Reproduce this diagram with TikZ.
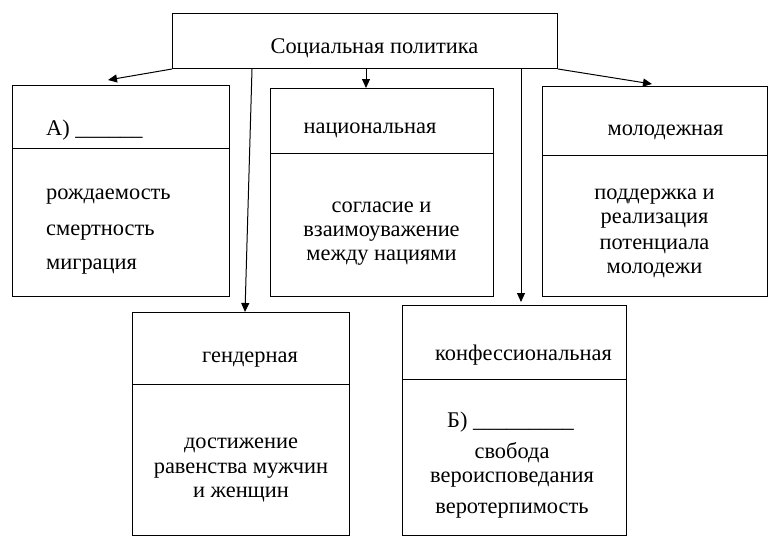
\documentclass[tikz,border=0pt]{standalone}
\usepackage{fontspec}
\setmainfont{Liberation Serif}
\usetikzlibrary{arrows.meta}
\begin{document}
\begin{tikzpicture}[x=1pt,y=-1pt,
  box/.style={draw,line width=1pt,rectangle,anchor=north west,inner sep=0pt},
  txt/.style={font=\fontsize{22.4}{25}\selectfont,inner sep=0pt,anchor=base},
  txtl/.style={txt,anchor=base west},
  arr/.style={line width=1pt,-{Triangle[length=9pt,width=8pt]}},
  divider/.style={line width=1pt}]
\useasboundingbox (0,0) rectangle (775,547);
% boxes
\node[box,minimum width=385pt,minimum height=55pt] (top) at (172,13) {};
\node[box,minimum width=217pt,minimum height=211pt] (A) at (12,85) {};
\node[box,minimum width=223pt,minimum height=208pt] (nat) at (270,88) {};
\node[box,minimum width=225pt,minimum height=210pt] (mol) at (542,86) {};
\node[box,minimum width=217pt,minimum height=223pt] (gen) at (132,312) {};
\node[box,minimum width=224pt,minimum height=230pt] (konf) at (402,305) {};
% dividers
\coordinate (dA) at (0,148);
\coordinate (dN) at (0,153);
\coordinate (dM) at (0,155);
\coordinate (dG) at (0,384);
\coordinate (dK) at (0,379);
\draw[divider] (A.west |- dA) -- (A.east |- dA);
\draw[divider] (nat.west |- dN) -- (nat.east |- dN);
\draw[divider] (mol.west |- dM) -- (mol.east |- dM);
\draw[divider] (gen.west |- dG) -- (gen.east |- dG);
\draw[divider] (konf.west |- dK) -- (konf.east |- dK);
% texts
\node[txt] (tTop) at (374.5,53) {Социальная политика};
\node[txtl] (tA) at (46,135) {А) \_\_\_\_\_\_};
\node[txtl] (tA1) at (46,199) {рождаемость};
\node[txtl] (tA2) at (46,235) {смертность};
\node[txtl] (tA3) at (46,269) {миграция};
\node[txt] (tN) at (370,133) {национальная};
\node[txt] (tN1) at (381.5,212) {согласие и};
\node[txt] (tN2) at (381.5,236) {взаимоуважение};
\node[txt] (tN3) at (381.5,260) {между нациями};
\node[txt] (tM) at (665.5,135) {молодежная};
\node[txt] (tM1) at (654.5,199) {поддержка и};
\node[txt] (tM2) at (654.5,223) {реализация};
\node[txt] (tM3) at (654.5,249) {потенциала};
\node[txt] (tM4) at (654.5,273) {молодежи};
\node[txt] (tG) at (250,362) {гендерная};
\node[txt] (tG1) at (241,448) {достижение};
\node[txt] (tG2) at (241,473) {равенства мужчин};
\node[txt] (tG3) at (241,497) {и женщин};
\node[txt] (tK) at (523.5,360) {конфессиональная};
\node[txtl] (tK0) at (447,427) {Б) \_\_\_\_\_\_\_\_\_};
\node[txt] (tK1) at (512,458) {свобода};
\node[txt] (tK2) at (512,482) {вероисповедания};
\node[txt] (tK3) at (512,513) {веротерпимость};
% arrows
\coordinate (aA) at (108,80);
\coordinate (xN) at (366,0);
\coordinate (xG0) at (252,0);
\coordinate (xG1) at (245,0);
\coordinate (xK) at (521,0);
\coordinate (aK) at (521,302);
\coordinate (sM) at (558,68);
\coordinate (aM) at (652,84);
\draw[arr] (top.south west) -- (aA);
\draw[arr] (top.south -| xN) -- (nat.north -| xN);
\draw[arr] (top.south -| xG0) -- (gen.north -| xG1);
\draw[arr] (top.south -| xK) -- (aK);
\draw[arr] (top.south east) -- (aM);
\end{tikzpicture}
\end{document}
